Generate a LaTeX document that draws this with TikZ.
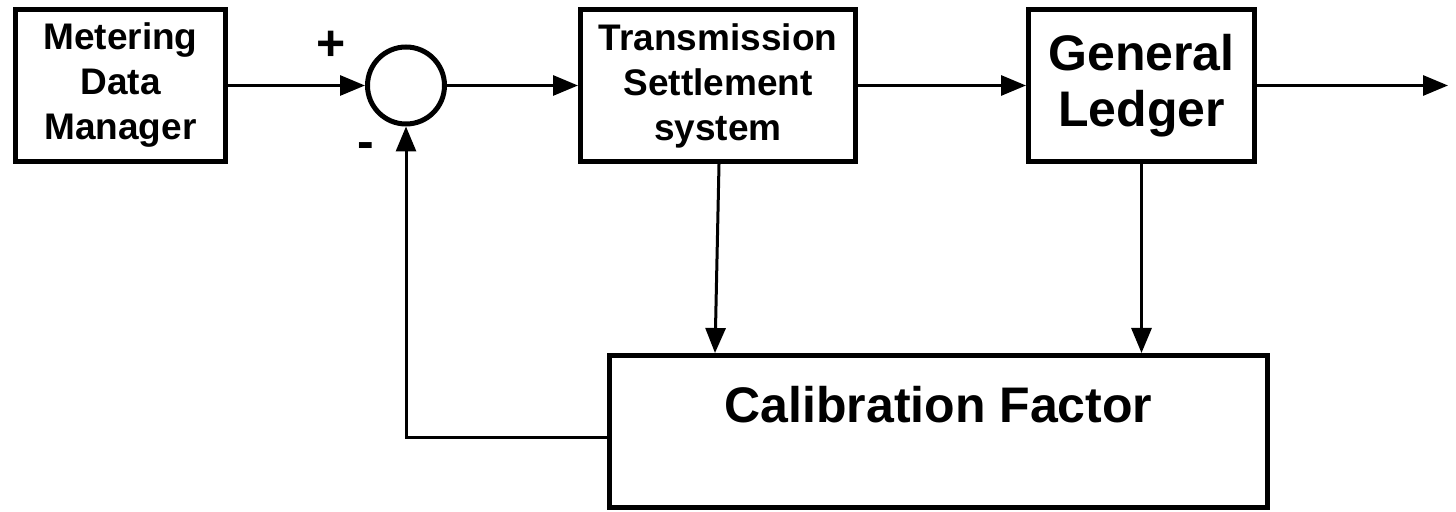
\documentclass[tikz,border=0pt]{standalone}
\usepackage{fontspec}
\setmainfont{Liberation Sans}
\usetikzlibrary{arrows.meta}
\begin{document}
\begin{tikzpicture}[x=0.5pt,y=-0.5pt,>={Triangle[length=12.5pt,width=10pt]}]
	\tikzstyle{block}=[rectangle,draw=black,line width=2.5pt,minimum height=76pt,inner sep=0pt,align=center,font=\bfseries\fontsize{18.5}{22.5}\selectfont]
	\tikzstyle{bigblock}=[block,font=\bfseries\fontsize{25}{28}\selectfont]
	\tikzstyle{sumnode}=[circle,draw=black,line width=2.5pt,minimum size=38.5pt,inner sep=0pt]
	\tikzstyle{sign}=[font=\bfseries\fontsize{25}{28}\selectfont,inner sep=0pt]
	\tikzstyle{edge}=[draw, line width=1.5pt]
	\useasboundingbox (0,0) rectangle (1456,512);
	\begin{scope}
		\node [block,minimum width=105pt] (mdm) at (120.5,85.5) {Metering\\Data\\Manager};
		\node [sumnode] (sum) at (406,85.5) {};
		\node [block,minimum width=137.5pt] (tss) at (718,85.5) {Transmission\\Settlement\\system};
		\node [bigblock,minimum width=113pt] (gl) at (1141.5,85.5) {General\\Ledger};
		\node [block,minimum width=329pt] (cal) at (938.5,431.5) {};
		\node [font=\bfseries\fontsize{25}{28}\selectfont,anchor=base,inner sep=0pt] (calname) at (938.5,423) {Calibration Factor};
		\node [sign] (plus) at (331,45.5) {+};
		\node [sign] (minus) at (366,151) {-};
		\coordinate (out) at (1448,85.5);

		\path[edge,->] (mdm) edge (sum);
		\path[edge,->] (sum) edge (tss);
		\path[edge,->] (tss) edge (gl);
		\path[edge,->] (gl) edge (out);
		\path[edge,->] ([xshift=0.5pt]tss.south) -- ([xshift=-111.75pt]cal.north);
		\path[edge,->] (gl.south) -- (gl.south |- cal.north);
		\path[edge,->] ([yshift=-3.25pt]cal.west) -| (sum.south);
	\end{scope}
\end{tikzpicture}
\end{document}
